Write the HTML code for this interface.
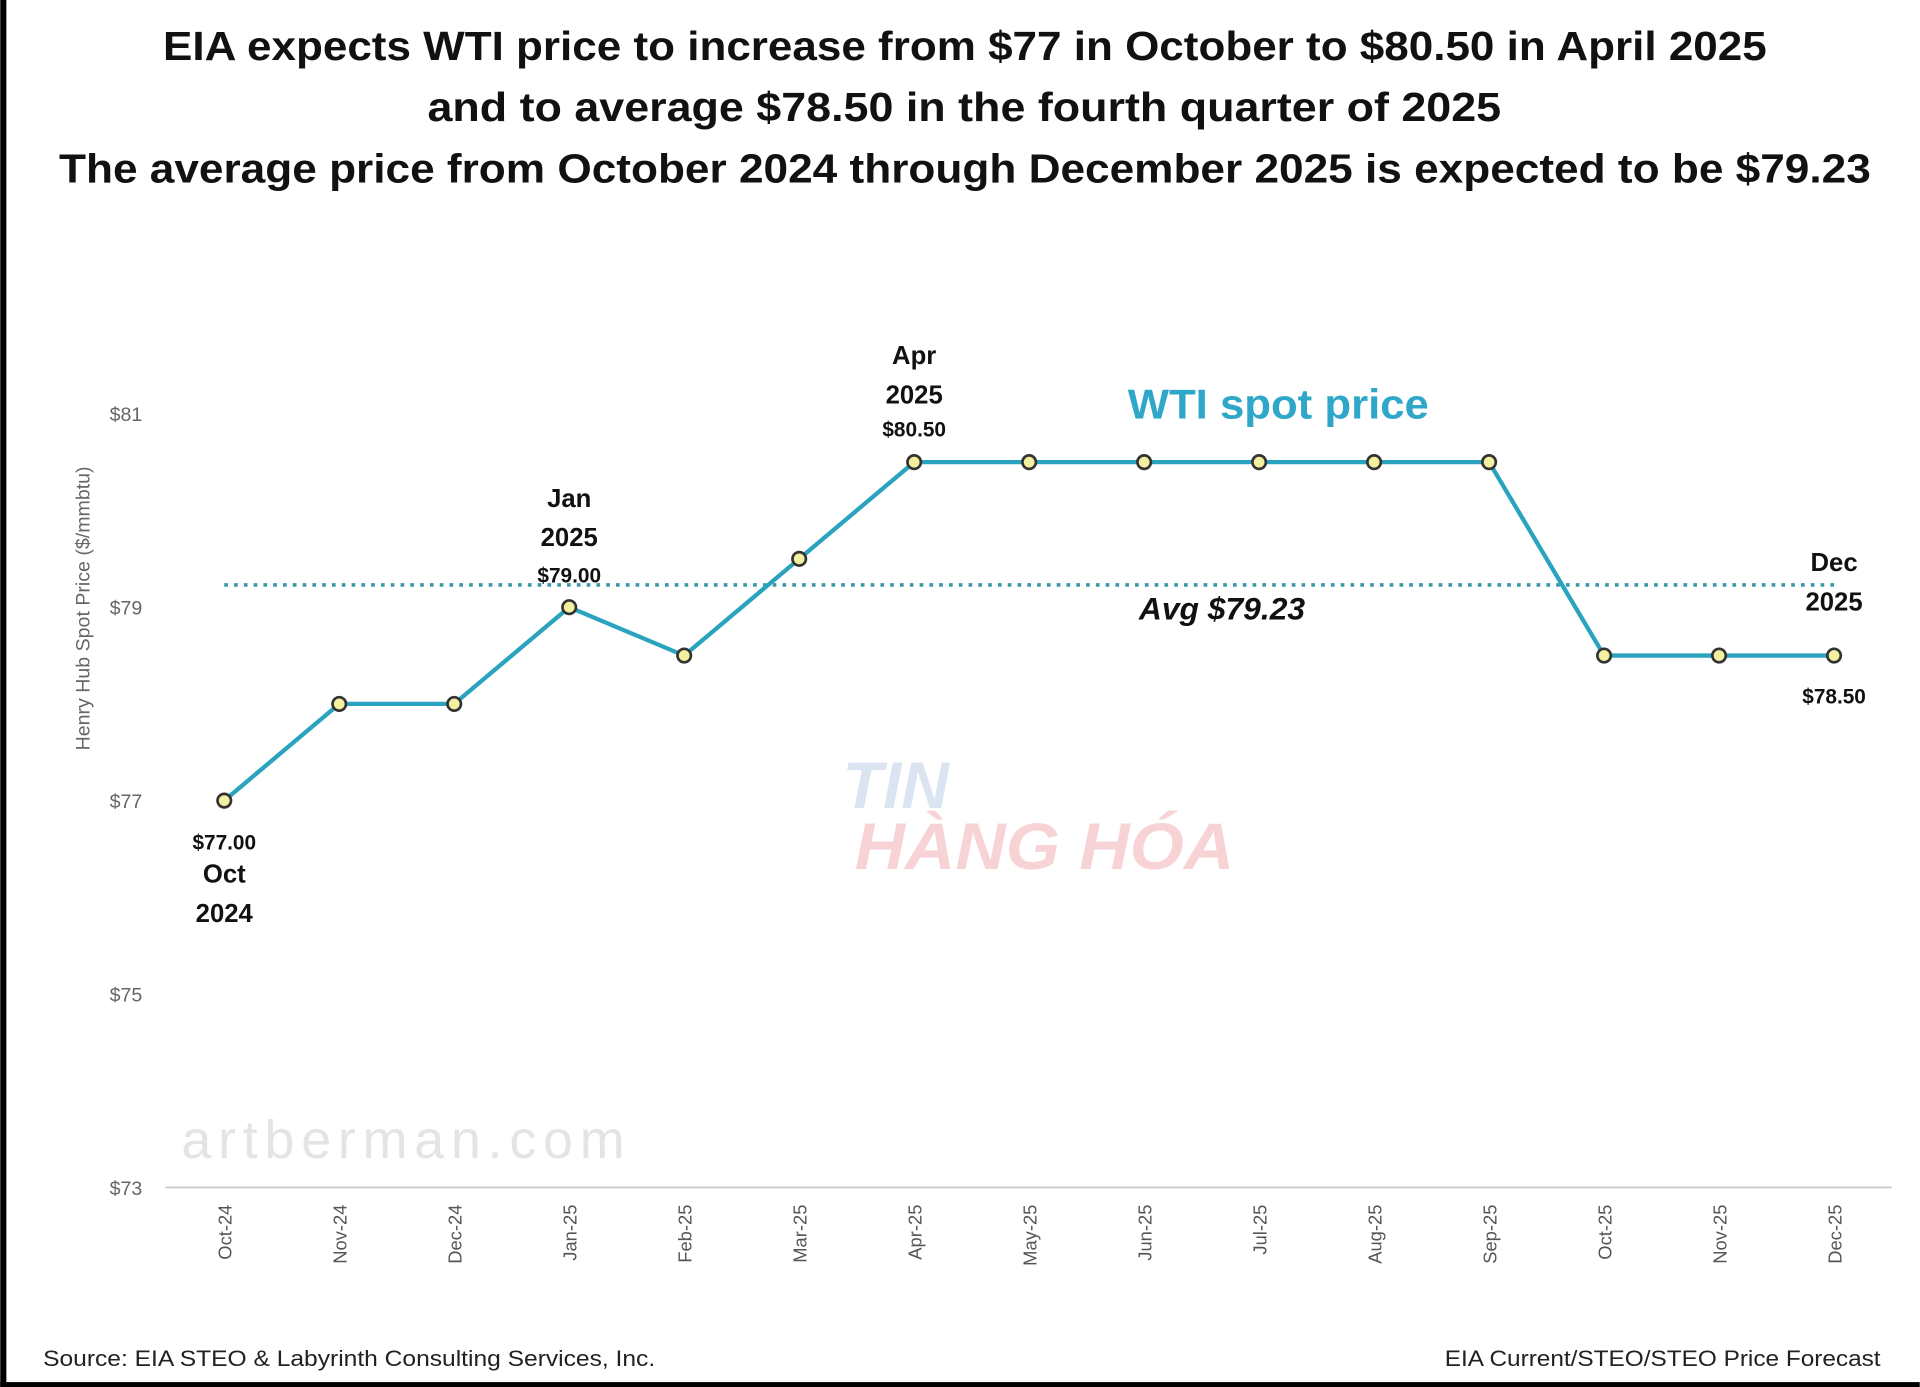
<!DOCTYPE html>
<html><head><meta charset="utf-8"><style>
html,body{margin:0;padding:0;background:#fff;width:1920px;height:1387px;overflow:hidden}
svg{display:block}
text{font-family:"Liberation Sans",sans-serif}
</style></head><body>
<svg id="chart" width="1920" height="1387" viewBox="0 0 1568 1133" xmlns="http://www.w3.org/2000/svg">
<rect x="0" y="0" width="1568" height="1133" fill="#fff"/>
<rect x="0" y="0" width="5" height="1133" fill="#000"/>
<rect x="0" y="1129" width="1568" height="4" fill="#000"/>
<g font-weight="bold" font-size="33" fill="#111">
<text x="133" y="49" textLength="1310" lengthAdjust="spacingAndGlyphs">EIA expects WTI price to increase from $77 in October to $80.50 in April 2025</text>
<text x="349" y="99" textLength="877" lengthAdjust="spacingAndGlyphs">and to average $78.50 in the fourth quarter of 2025</text>
<text x="48" y="149" textLength="1480" lengthAdjust="spacingAndGlyphs">The average price from October 2024 through December 2025 is expected to be $79.23</text>
</g>
<text transform="translate(73,497) rotate(-90)" text-anchor="middle" font-size="16" fill="#666">Henry Hub Spot Price ($/mmbtu)</text>
<g id="yticks"></g>
<line x1="135" y1="970" x2="1545" y2="970" stroke="#ccc" stroke-width="1.5"/>
<g id="xticks"></g>
<text x="148" y="946" font-size="44" fill="#e4e4e4" textLength="362">artberman.com</text>
<g font-weight="bold" font-style="italic" font-size="54" opacity="0.5">
<text x="688" y="660" fill="#b9cde6">TIN</text>
<text x="698" y="710" fill="#f1a9ae" textLength="310" lengthAdjust="spacingAndGlyphs">HÀNG HÓA</text>
</g>
<g id="avg"></g>
<g id="series"></g>
<g id="labels" font-weight="bold" fill="#111" text-anchor="middle"></g>
<text x="921" y="342" font-size="34" font-weight="bold" fill="#2ea7c9" textLength="246" lengthAdjust="spacingAndGlyphs">WTI spot price</text>
<text x="998" y="506" font-size="26" font-weight="bold" font-style="italic" fill="#111" text-anchor="middle">Avg $79.23</text>
<text x="35" y="1116" font-size="18" fill="#222" textLength="500" lengthAdjust="spacingAndGlyphs">Source: EIA STEO &amp; Labyrinth Consulting Services, Inc.</text>
<text x="1180" y="1116" font-size="18" fill="#222" textLength="356" lengthAdjust="spacingAndGlyphs">EIA Current/STEO/STEO Price Forecast</text>
</svg>
<script>
const categories=["Oct-24","Nov-24","Dec-24","Jan-25","Feb-25","Mar-25","Apr-25","May-25","Jun-25","Jul-25","Aug-25","Sep-25","Oct-25","Nov-25","Dec-25"];
const prices=[77,78,78,79,78.5,79.5,80.5,80.5,80.5,80.5,80.5,80.5,78.5,78.5,78.5];
const yTicks=[73,75,77,79,81];
const yTickLabels=["$73","$75","$77","$79","$81"];
const avgPrice=79.23;
const NS="http://www.w3.org/2000/svg";
function xs(i){return 183+i*(1498-183)/(categories.length-1);}
function ys(v){return 970-(v-73)*79;}
function mk(tag,attrs,parent){const e=document.createElementNS(NS,tag);for(const k in attrs)e.setAttribute(k,attrs[k]);parent.appendChild(e);return e;}
const yg=document.getElementById('yticks');
yTicks.forEach((v,i)=>{const t=mk('text',{x:116,y:ys(v)+6,'text-anchor':'end','font-size':16,fill:'#666'},yg);


t.textContent=yTickLabels[i];});
const xg=document.getElementById('xticks');
categories.forEach((c,i)=>{const t=mk('text',{transform:`translate(${xs(i)+6},984) rotate(-90)`,'text-anchor':'end','font-size':15,fill:'#555'},xg);


t.textContent=c;});
const ag=document.getElementById('avg');
const al=mk('line',{x1:xs(0),x2:xs(categories.length-1),y1:ys(avgPrice),y2:ys(avgPrice),stroke:'#3a9aa8','stroke-width':3,'stroke-dasharray':'3 5'},ag);


const sg=document.getElementById('series');
const pl=mk('polyline',{points:prices.map((v,i)=>xs(i)+','+ys(v)).join(' '),fill:'none',stroke:'#2aa3bf','stroke-width':3.5},sg);


prices.forEach((v,i)=>{const c=mk('circle',{cx:xs(i),cy:ys(v),r:5.5,fill:'#f3f0a0',stroke:'#333','stroke-width':2.2},sg);

});
const lg=document.getElementById('labels');
function lab(txt,x,y,size,name){const t=mk('text',{x:x,y:y,'font-size':size},lg);


t.textContent=txt;}
lab('$77.00',xs(0),ys(prices[0])+40,17,'value-label');
lab('Oct',xs(0),ys(prices[0])+67,21,'date-label');
lab('2024',xs(0),ys(prices[0])+99,21,'date-label');
lab('Jan',xs(3),ys(prices[3])-82,21,'date-label');
lab('2025',xs(3),ys(prices[3])-50,21,'date-label');
lab('$79.00',xs(3),ys(prices[3])-20,17,'value-label');
lab('Apr',xs(6),ys(prices[6])-80,21,'date-label');
lab('2025',xs(6),ys(prices[6])-48,21,'date-label');
lab('$80.50',xs(6),ys(prices[6])-21,17,'value-label');
lab('Dec',xs(14),ys(prices[14])-69,21,'date-label');
lab('2025',xs(14),ys(prices[14])-37,21,'date-label');
lab('$78.50',xs(14),ys(prices[14])+39,17,'value-label');
</script>
</body></html>
